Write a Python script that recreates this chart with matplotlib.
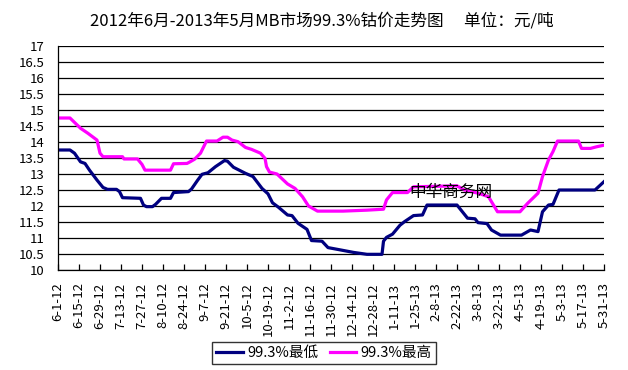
import numpy as np
import matplotlib
matplotlib.use("Agg")
import matplotlib.pyplot as plt

plt.rcParams['font.family'] = ['Noto Sans CJK SC', 'DejaVu Sans']

# ==================== 数据（自 2012-06-01 起的天数，元/吨） ====================
day_high = [0, 8, 15, 20, 26, 28, 30, 43, 44, 53, 56, 58, 75, 77, 86, 88, 91, 95,
            99, 106, 110, 113, 116, 120, 125, 129, 135, 138, 139, 141, 146, 153,
            158, 163, 167, 173, 190, 206, 217, 219, 223, 233, 237, 266, 271, 280,
            287, 293, 308, 313, 320, 323, 327, 330, 333, 347, 349, 355, 359, 364]
price_high = [14.75, 14.75, 14.43, 14.27, 14.06, 13.65, 13.54, 13.54, 13.47, 13.47,
              13.30, 13.12, 13.12, 13.32, 13.33, 13.38, 13.46, 13.65, 14.03, 14.03,
              14.15, 14.15, 14.06, 14.01, 13.83, 13.77, 13.65, 13.49, 13.23, 13.06,
              13.00, 12.69, 12.55, 12.29, 12.00, 11.84, 11.84, 11.87, 11.90, 12.19,
              12.42, 12.42, 12.60, 12.63, 12.50, 12.40, 12.29, 11.82, 11.82, 12.08,
              12.40, 12.92, 13.44, 13.70, 14.03, 14.03, 13.80, 13.80, 13.85, 13.90]

day_low = [0, 8, 11, 15, 18, 21, 26, 30, 33, 39, 41, 43, 55, 57, 59, 63, 65, 69, 75,
           77, 87, 89, 93, 96, 100, 105, 111, 113, 117, 125, 130, 136, 140, 143, 147,
           153, 156, 160, 166, 169, 176, 180, 188, 197, 206, 216, 217, 219, 223, 228,
           231, 237, 243, 246, 266, 273, 278, 280, 286, 289, 295, 309, 315, 320, 323,
           327, 330, 334, 358, 364]
price_low = [13.75, 13.75, 13.65, 13.38, 13.33, 13.12, 12.81, 12.58, 12.52, 12.52,
             12.45, 12.26, 12.24, 12.03, 11.98, 11.98, 12.05, 12.24, 12.24, 12.42,
             12.45, 12.53, 12.80, 12.99, 13.04, 13.23, 13.42, 13.40, 13.21, 13.02,
             12.92, 12.55, 12.38, 12.10, 11.96, 11.72, 11.70, 11.46, 11.27, 10.92,
             10.90, 10.70, 10.63, 10.55, 10.49, 10.49, 10.90, 11.02, 11.12, 11.40,
             11.51, 11.70, 11.72, 12.03, 12.03, 11.62, 11.60, 11.48, 11.45, 11.25,
             11.09, 11.09, 11.25, 11.20, 11.82, 12.03, 12.05, 12.50, 12.50, 12.76]

tick_labels = ["6-1-12", "6-15-12", "6-29-12", "7-13-12", "7-27-12", "8-10-12",
               "8-24-12", "9-7-12", "9-21-12", "10-5-12", "10-19-12", "11-2-12",
               "11-16-12", "11-30-12", "12-14-12", "12-28-12", "1-11-13", "1-25-13",
               "2-8-13", "2-22-13", "3-8-13", "3-22-13", "4-5-13", "4-19-13",
               "5-3-13", "5-17-13", "5-31-13"]

# ==================== 绘图 ====================
W, H = 628, 370
fig = plt.figure(figsize=(W / 100, H / 100), dpi=100)
ax = fig.add_axes([58 / W, 100 / H, 546 / W, 224 / H])

ax.plot(day_low, price_low, color='#000080', lw=2.3, label='99.3%最低')
ax.plot(day_high, price_high, color='#FF00FF', lw=2.3, label='99.3%最高')

ax.set_ylim(10, 17)
yt = np.arange(10, 17.01, 0.5)
ax.set_yticks(yt)
ax.set_yticklabels([f"{v:g}" for v in yt], fontsize=9.5)
ax.set_xlim(0, 364)
ax.set_xticks(np.arange(0, 365, 14))
ax.set_xticklabels(tick_labels, rotation=90, fontsize=9.5)
ax.tick_params(axis='x', direction='in', length=4, pad=9, width=0.9)
ax.tick_params(axis='y', length=0, pad=10)
ax.grid(axis='y', color='black', lw=0.9)
ax.set_axisbelow(True)
for s in ['top', 'right']:
    ax.spines[s].set_visible(False)
for s in ['left', 'bottom']:
    ax.spines[s].set_linewidth(0.9)

fig.text(322 / W, 1 - 21 / H, "2012年6月-2013年5月MB市场99.3%钴价走势图\u3000 单位：元/吨",
         ha='center', va='center', fontsize=12)

# 水印
fig.text(451 / W, 1 - 192 / H, "中华商务网", ha='center', va='center',
         fontsize=12, color='black')

leg = fig.legend(loc='center', bbox_to_anchor=(324 / W, 1 - 353 / H), ncol=2,
                 fontsize=10.5, frameon=True, fancybox=False, handlelength=1.8,
                 handletextpad=0.3, columnspacing=0.8, borderpad=0.3)
leg.get_frame().set_edgecolor('black')
leg.get_frame().set_linewidth(1.0)

fig.savefig("out.png", dpi=100)
